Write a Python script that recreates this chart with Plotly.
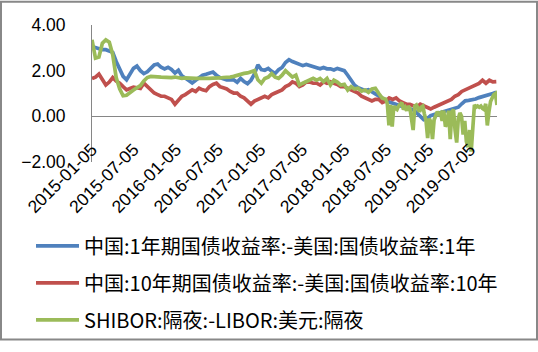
import pandas as pd
import plotly.graph_objects as go

# ---- data ----
DATES = pd.date_range("2015-01-05", periods=118, freq="15D")

CN_US_1Y = [3.06, 3.02, 2.95, 2.92, 2.92, 2.85, 2.80, 2.40, 2.10, 1.75,
            1.60, 1.85, 2.10, 2.20, 2.00, 1.87, 1.95, 2.10, 2.25, 2.29,
            2.15, 2.08, 2.15, 2.05, 1.90, 2.02, 1.77, 1.68, 1.55, 1.46,
            1.58, 1.70, 1.80, 1.84, 1.90, 1.94, 1.80, 1.70, 1.65, 1.60,
            1.60, 1.60, 1.49, 1.66, 1.52, 1.43, 1.58, 1.85, 2.25, 2.05,
            2.02, 2.10, 1.97, 1.88, 2.04, 2.14, 2.36, 2.48, 2.40, 2.33,
            2.29, 2.22, 2.27, 2.22, 2.18, 2.13, 2.08, 2.14, 2.08, 2.08,
            2.03, 2.10, 2.07, 2.00, 1.80, 1.58, 1.36, 1.25, 1.21, 1.13,
            1.17, 1.08, 1.00, 0.88, 0.80, 0.68, 0.62, 0.56, 0.52, 0.48,
            0.42, 0.38, 0.33, 0.28, 0.15, 0.00, -0.15, -0.10, 0.03, 0.08,
            0.12, 0.18, 0.22, 0.25, 0.30, 0.35, 0.40, 0.55, 0.68, 0.70,
            0.72, 0.76, 0.82, 0.86, 0.88, 0.92, 1.00, 1.06]

CN_US_10Y = [1.65, 1.72, 1.85, 1.60, 1.37, 1.50, 1.70, 1.55, 1.45, 1.30,
             1.16, 1.22, 1.28, 1.25, 1.22, 1.45, 1.30, 1.16, 1.02, 0.95,
             0.88, 0.88, 0.81, 0.74, 0.53, 0.70, 0.88, 0.95, 1.05, 1.16,
             1.09, 1.23, 1.16, 1.12, 1.30, 1.40, 1.45, 1.30, 1.25, 1.20,
             1.09, 1.02, 1.02, 0.88, 0.81, 0.67, 0.53, 0.67, 0.74, 0.81,
             0.88, 0.81, 0.95, 1.02, 1.09, 1.16, 1.30, 1.37, 1.51, 1.45,
             1.30, 1.37, 1.51, 1.50, 1.45, 1.45, 1.37, 1.51, 1.45, 1.51,
             1.45, 1.40, 1.30, 1.30, 1.23, 1.16, 1.09, 1.02, 0.88, 0.81,
             0.74, 0.67, 0.74, 0.74, 0.60, 0.67, 0.81, 0.74, 0.81, 0.67,
             0.60, 0.53, 0.53, 0.46, 0.40, 0.53, 0.46, 0.35, 0.32, 0.40,
             0.46, 0.53, 0.60, 0.67, 0.74, 0.88, 0.95, 1.09, 1.16, 1.23,
             1.30, 1.37, 1.44, 1.58, 1.45, 1.58, 1.51, 1.52]

# overnight spread: 15-day points until mid-2018, then weekly points
ON_DATES = list(DATES[:85]) + list(pd.date_range("2018-07-03", periods=70, freq="7D"))
SHIBOR_LIBOR_ON = [3.35, 2.55, 2.60, 3.20, 3.35, 3.25, 2.70, 1.70, 1.20, 0.90,
                   0.92, 1.05, 1.15, 1.25, 1.35, 1.55, 1.70, 1.75, 1.76, 1.73,
                   1.72, 1.70, 1.68, 1.70, 1.72, 1.68, 1.66, 1.68, 1.66, 1.65,
                   1.66, 1.66, 1.65, 1.66, 1.66, 1.67, 1.66, 1.68, 1.70, 1.70,
                   1.72, 1.75, 1.80, 1.82, 1.88, 1.90, 1.94, 2.00, 1.60, 1.45,
                   1.66, 1.72, 1.87, 1.72, 1.66, 1.80, 2.00, 1.87, 1.72, 1.80,
                   1.37, 1.45, 1.52, 1.58, 1.66, 1.58, 1.66, 1.52, 1.66, 1.37,
                   1.58, 1.50, 1.37, 1.40, 1.15, 1.30, 1.20, 1.23, 1.10, 1.15,
                   1.05, 1.20, 1.23, 1.00, 0.80,
                   0.75, 0.55, -0.40, 0.50, -0.45, 0.45, 0.35, 0.30, 0.45, 0.55,
                   0.60, 0.30, 0.40, 0.25, 0.45, 0.35, -0.10, -0.60, 0.45, 0.50,
                   0.35, 0.20, 0.40, 0.45, 0.10, -0.20, -0.95, -0.10, -0.25, -1.00,
                   -0.15, 0.00, 0.20, 0.10, 0.15, -0.20, 0.25, -0.45, -0.30, 0.25,
                   -1.00, 0.20, 0.30, -0.60, -1.15, -0.10, 0.15, 0.00, -0.80, -0.20,
                   -1.10, -1.35, -0.60, -1.55, -0.30, 0.50, 0.40, 0.45, 0.40, 0.45,
                   0.35, 0.30, 0.55, -0.40, 0.20, 0.65, 0.80, 0.95, 1.00, 0.50]

NAMES = ["中国:1年期国债收益率:-美国:国债收益率:1年",
         "中国:10年期国债收益率:-美国:国债收益率:10年",
         "SHIBOR:隔夜:-LIBOR:美元:隔夜"]
COLORS = ["#4F81BD", "#C0504D", "#9BBB59"]

TICK_DATES = ["2015-01-05", "2015-07-05", "2016-01-05", "2016-07-05", "2017-01-05",
              "2017-07-05", "2018-01-05", "2018-07-05", "2019-01-05", "2019-07-05"]
Y_TICKS = [-2, 0, 2, 4]

AX_FONT = dict(family="Liberation Sans, Noto Sans CJK SC", size=17.5, color="#000000")
LEG_FONT = dict(family="Noto Sans CJK SC", size=20, color="#000000")

fig = go.Figure()
series = [(DATES, CN_US_1Y), (DATES, CN_US_10Y), (ON_DATES, SHIBOR_LIBOR_ON)]
for i, (xs, ys) in enumerate(series):
    fig.add_trace(go.Scatter(x=xs, y=ys, mode="lines", name=NAMES[i],
                             legendgroup=f"g{i}",
                             line=dict(color=COLORS[i], width=3.7)))

fig.update_layout(
    width=538, height=352,
    margin=dict(l=92, r=41, t=25, b=185),
    paper_bgcolor="white", plot_bgcolor="white",
    showlegend=True,
    legend=dict(x=-0.1506, y=-0.47, xanchor="left", yanchor="top",
                font=LEG_FONT, tracegroupgap=8, itemwidth=43,
                bgcolor="rgba(0,0,0,0)"),
    xaxis=dict(type="date", range=[DATES[0], ON_DATES[-1]],
               tickvals=TICK_DATES, ticktext=TICK_DATES, tickangle=-45,
               anchor="free", position=1/3, showline=False, showgrid=False,
               zeroline=False, ticks="outside", ticklen=15,
               tickcolor="rgba(0,0,0,0)", tickfont=AX_FONT),
    yaxis=dict(range=[-2, 4], tickvals=Y_TICKS, tickformat=".2f",
               showline=True, linecolor="#868686", linewidth=1,
               showgrid=False, zeroline=True, zerolinecolor="#868686",
               zerolinewidth=1, ticks="outside", ticklen=22,
               tickcolor="rgba(0,0,0,0)", tickfont=AX_FONT),
    shapes=[dict(type="rect", xref="paper", yref="paper",
                 x0=(1 - 92) / 405, x1=(537 - 92) / 405,
                 y0=(167 - 351) / 142, y1=(167 - 1) / 142,
                 line=dict(color="#888888", width=2), layer="above")],
)

fig.write_html("out.html")
